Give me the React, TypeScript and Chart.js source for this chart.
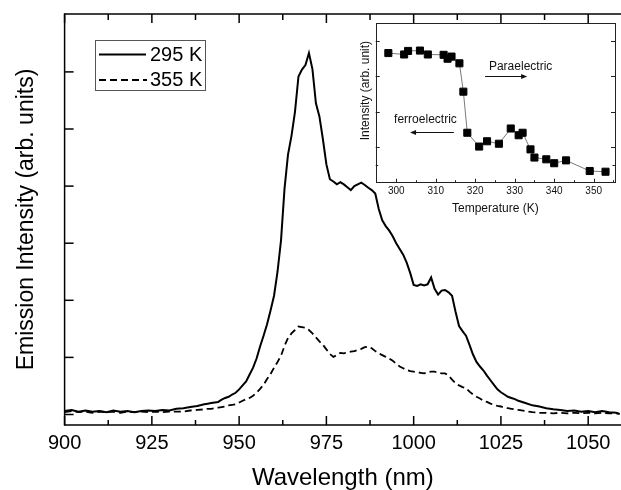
import React, { useEffect, useRef } from "react";
import { Chart, registerables } from "chart.js";

Chart.register(...registerables);

const FONT = "'Liberation Sans', Arial, Helvetica, sans-serif";

// ---- main spectrum ----
const wavelengths = [
  900, 902, 904, 906, 908, 910, 912, 914, 916, 918, 920, 922, 924, 926, 928, 930, 932, 934, 936, 938, 940,
  941, 942, 943, 944, 945, 946, 947, 948, 949, 950,
  951, 952, 953, 954, 955, 956, 957, 958, 959, 960,
  961, 962, 963, 964, 965, 966, 967, 968, 969, 970,
  971, 972, 973, 974, 975, 976, 977, 978, 979, 980,
  981, 982, 983, 984, 985, 986, 987, 988, 989, 990,
  991, 992, 993, 994, 995, 996, 997, 998, 999, 1000,
  1001, 1002, 1003, 1004, 1005, 1006, 1007, 1008, 1009, 1010,
  1011, 1012, 1013, 1014, 1015, 1016, 1017, 1018, 1019, 1020,
  1021, 1022, 1023, 1024, 1025, 1026, 1027, 1028, 1029, 1030,
  1032, 1034, 1036, 1038, 1040, 1042, 1044, 1046, 1048, 1050, 1052, 1054, 1056, 1058, 1059,
];

const intensity295K = [
  0.06, 0.08, 0.05, 0.07, 0.05, 0.06, 0.04, 0.07, 0.05, 0.06, 0.04, 0.06, 0.07, 0.06, 0.08, 0.07, 0.10, 0.11, 0.13, 0.15, 0.18,
  0.19, 0.20, 0.21, 0.22, 0.26, 0.29, 0.31, 0.35, 0.38, 0.44,
  0.51, 0.58, 0.70, 0.82, 0.98, 1.19, 1.38, 1.58, 1.82, 2.08,
  2.50, 3.05, 3.95, 4.55, 4.88, 5.30, 5.92, 6.04, 6.12, 6.33,
  6.05, 5.45, 5.22, 4.82, 4.38, 4.12, 4.08, 4.03, 4.07, 4.03,
  3.98, 3.93, 4.00, 4.03, 4.06, 4.02, 3.97, 3.93, 3.87, 3.60,
  3.40, 3.30, 3.22, 3.12, 3.00, 2.90, 2.80, 2.66, 2.48, 2.27,
  2.25, 2.28, 2.26, 2.28, 2.40, 2.20, 2.10, 2.17, 2.18, 2.14,
  2.08, 1.80, 1.55, 1.46, 1.38, 1.22, 1.05, 0.92, 0.84, 0.77,
  0.68, 0.60, 0.52, 0.44, 0.39, 0.35, 0.31, 0.29, 0.27, 0.24,
  0.20, 0.16, 0.14, 0.11, 0.09, 0.08, 0.06, 0.07, 0.05, 0.06, 0.04, 0.06, 0.04, 0.03, 0.01,
];

const intensity355K = [
  0.04, 0.06, 0.04, 0.05, 0.03, 0.05, 0.04, 0.05, 0.03, 0.05, 0.04, 0.05, 0.04, 0.05, 0.04, 0.05, 0.05, 0.05, 0.07, 0.08, 0.09,
  0.10, 0.10, 0.11, 0.12, 0.13, 0.14, 0.16, 0.17, 0.18, 0.21,
  0.24, 0.27, 0.29, 0.33, 0.38, 0.45, 0.52, 0.62, 0.71, 0.82,
  0.92, 1.03, 1.20, 1.34, 1.42, 1.48, 1.54, 1.53, 1.52, 1.48,
  1.42, 1.35, 1.28, 1.22, 1.14, 1.06, 1.01, 1.04, 1.08, 1.07,
  1.09, 1.10, 1.11, 1.13, 1.15, 1.18, 1.19, 1.16, 1.11, 1.07,
  1.04, 1.01, 0.98, 0.94, 0.89, 0.84, 0.81, 0.78, 0.76, 0.75,
  0.74, 0.73, 0.72, 0.74, 0.75, 0.75, 0.73, 0.72, 0.72, 0.68,
  0.61, 0.55, 0.51, 0.48, 0.46, 0.40, 0.35, 0.31, 0.28, 0.24,
  0.22, 0.19, 0.17, 0.15, 0.14, 0.12, 0.11, 0.10, 0.09, 0.08,
  0.06, 0.04, 0.03, 0.03, 0.02, 0.03, 0.02, 0.03, 0.02, 0.03, 0.02, 0.03, 0.02, 0.02, 0.01,
];

const seriesLabels = ["295 K", "355 K"];
const wavelengthTicks = [900, 925, 950, 975, 1000, 1025, 1050];
const intensityTicks = [0, 1, 2, 3, 4, 5, 6];

// ---- inset ----
const insetTemperature = [298, 302, 303, 306, 308, 312, 313, 314, 316, 317, 318, 321, 323, 326, 329, 331, 332, 334, 335, 338, 340, 343, 349, 353];
const insetIntensity = [3.66, 3.62, 3.72, 3.73, 3.62, 3.61, 3.50, 3.56, 3.37, 2.57, 1.41, 1.02, 1.17, 1.10, 1.53, 1.34, 1.41, 0.94, 0.71, 0.66, 0.55, 0.63, 0.33, 0.31];
const temperatureTicks = [300, 310, 320, 330, 340, 350];
const temperatureMinorTicks = [295, 305, 315, 325, 335, 345, 355];
const insetIntensityTicks = [1, 2, 3, 4];
const insetIntensityMinorTicks = [0.5];

function seg(ctx: CanvasRenderingContext2D, x1: number, y1: number, x2: number, y2: number) {
  ctx.beginPath();
  ctx.moveTo(x1, y1);
  ctx.lineTo(x2, y2);
  ctx.stroke();
}

function arrow(ctx: CanvasRenderingContext2D, x1: number, y: number, x2: number) {
  seg(ctx, x1, y, x2, y);
  const dir = x2 > x1 ? 1 : -1;
  ctx.beginPath();
  ctx.moveTo(x2 + dir * 1, y);
  ctx.lineTo(x2 - dir * 5, y - 2.5);
  ctx.lineTo(x2 - dir * 5, y + 2.5);
  ctx.closePath();
  ctx.fill();
}

export default function App() {
  const mainRef = useRef<HTMLCanvasElement>(null);
  const insetRef = useRef<HTMLCanvasElement>(null);

  useEffect(() => {
    const mainFrame = {
      id: "mainFrame",
      afterDraw(chart: any) {
        const { ctx, chartArea } = chart;
        const { left, right, top, bottom } = chartArea;
        const xs = chart.scales.x;
        const ys = chart.scales.y;
        ctx.save();
        ctx.strokeStyle = "#000";
        ctx.lineWidth = 1.5;
        seg(ctx, left, top, right + 2, top);
        seg(ctx, left, top - 0.75, left, bottom + 0.75);
        seg(ctx, left, bottom, right + 2, bottom);
        // major x ticks
        wavelengthTicks.forEach((v) => {
          const px = xs.getPixelForValue(v);
          seg(ctx, px, bottom, px, bottom - 9);
          seg(ctx, px, top, px, top + 9);
        });
        // minor x ticks (midpoints)
        for (let i = 0; i < wavelengthTicks.length; i++) {
          const a = wavelengthTicks[i];
          const b = i + 1 < wavelengthTicks.length ? wavelengthTicks[i + 1] : a + (a - wavelengthTicks[i - 1]);
          const m = (a + b) / 2;
          if (m > xs.max) continue;
          const px = xs.getPixelForValue(m);
          seg(ctx, px, bottom, px, bottom - 5);
          seg(ctx, px, top, px, top + 6);
        }
        intensityTicks.forEach((v) => {
          const py = ys.getPixelForValue(v);
          seg(ctx, left, py, left + 9, py);
        });
        // legend
        ctx.strokeStyle = "#555";
        ctx.lineWidth = 1;
        ctx.strokeRect(95.5, 40.5, 110, 50);
        ctx.strokeStyle = "#000";
        ctx.lineWidth = 2;
        seg(ctx, 99, 54.5, 146, 54.5);
        ctx.setLineDash([7, 4]);
        seg(ctx, 99, 80, 147, 80);
        ctx.setLineDash([]);
        ctx.fillStyle = "#000";
        ctx.font = `20px ${FONT}`;
        ctx.textAlign = "left";
        ctx.textBaseline = "middle";
        ctx.fillText(seriesLabels[0], 150, 55);
        ctx.fillText(seriesLabels[1], 150, 80);
        ctx.restore();
      },
    };

    const main = new Chart(mainRef.current as HTMLCanvasElement, {
      type: "line",
      data: {
        datasets: [
          {
            label: seriesLabels[0],
            data: wavelengths.map((w, i) => ({ x: w, y: intensity295K[i] })),
            borderColor: "#000",
            borderWidth: 2,
            pointRadius: 0,
            fill: false,
            tension: 0,
          },
          {
            label: seriesLabels[1],
            data: wavelengths.map((w, i) => ({ x: w, y: intensity355K[i] })),
            borderColor: "#000",
            borderWidth: 1.8,
            borderDash: [7, 4],
            pointRadius: 0,
            fill: false,
            tension: 0,
          },
        ],
      },
      options: {
        animation: false,
        responsive: false,
        events: [],
        layout: { padding: { top: 14, left: 0, right: 0, bottom: 0 } },
        plugins: { legend: { display: false }, tooltip: { enabled: false } },
        scales: {
          x: {
            type: "linear",
            min: 900,
            max: 1059.4,
            grid: { display: false, drawTicks: false },
            border: { display: false },
            afterBuildTicks: (s: any) => {
              s.ticks = wavelengthTicks.map((v) => ({ value: v }));
            },
            ticks: {
              font: { family: FONT, size: 20 },
              color: "#000",
              padding: 6,
              maxRotation: 0,
              autoSkip: false,
              callback: (v: any) => String(v),
            },
            title: {
              display: true,
              text: "Wavelength (nm)",
              font: { family: FONT, size: 24, lineHeight: 1 },
              color: "#000",
              padding: { top: 5, bottom: 0 },
            },
          },
          y: {
            type: "linear",
            min: -0.184,
            max: 7.014,
            grid: { display: false, drawTicks: false },
            border: { display: false },
            afterBuildTicks: (s: any) => {
              s.ticks = intensityTicks.map((v) => ({ value: v }));
            },
            ticks: { display: false },
            title: {
              display: true,
              text: "Emission Intensity (arb. units)",
              font: { family: FONT, size: 23 },
              color: "#000",
              padding: { top: 13, bottom: 24 },
            },
          },
        },
      },
      plugins: [mainFrame],
    } as any);

    const insetFrame = {
      id: "insetFrame",
      afterDraw(chart: any) {
        const { ctx, chartArea } = chart;
        const { left, right, top, bottom } = chartArea;
        const xs = chart.scales.x;
        const ys = chart.scales.y;
        ctx.save();
        ctx.strokeStyle = "#222";
        ctx.lineWidth = 1;
        ctx.strokeRect(Math.round(left) + 0.5, Math.round(top) + 0.5, Math.round(right - left), Math.round(bottom - top));
        temperatureTicks.forEach((v) => {
          const px = Math.round(xs.getPixelForValue(v)) + 0.5;
          seg(ctx, px, bottom, px, bottom - 4);
        });
        temperatureMinorTicks.forEach((v) => {
          if (v < xs.min || v > xs.max) return;
          const px = Math.round(xs.getPixelForValue(v)) + 0.5;
          seg(ctx, px, bottom, px, bottom - 2.5);
        });
        insetIntensityTicks.forEach((v) => {
          const py = Math.round(ys.getPixelForValue(v)) + 0.5;
          seg(ctx, left, py, left + 4, py);
          seg(ctx, right, py, right - 4, py);
        });
        insetIntensityMinorTicks.forEach((v) => {
          const py = Math.round(ys.getPixelForValue(v)) + 0.5;
          seg(ctx, left, py, left + 2.5, py);
          seg(ctx, right, py, right - 2.5, py);
        });
        // y title
        ctx.fillStyle = "#111";
        ctx.font = `12px ${FONT}`;
        ctx.textAlign = "center";
        ctx.textBaseline = "middle";
        ctx.save();
        ctx.translate(left - 10.5, ys.getPixelForValue(2.6));
        ctx.rotate(-Math.PI / 2);
        ctx.fillText("Intensity (arb. unit)", 0, 0);
        ctx.restore();
        // annotations
        ctx.fillText("Paraelectric", xs.getPixelForValue(331.5), ys.getPixelForValue(3.28));
        ctx.fillText("ferroelectric", xs.getPixelForValue(307.4), ys.getPixelForValue(1.77));
        ctx.strokeStyle = "#111";
        ctx.lineWidth = 1;
        arrow(ctx, xs.getPixelForValue(322.5), Math.round(ys.getPixelForValue(3.0)) + 0.5, xs.getPixelForValue(332.9));
        arrow(ctx, xs.getPixelForValue(314.6), Math.round(ys.getPixelForValue(1.44)) + 0.5, xs.getPixelForValue(303.75));
        ctx.restore();
      },
    };

    const inset = new Chart(insetRef.current as HTMLCanvasElement, {
      type: "line",
      data: {
        datasets: [
          {
            data: insetTemperature.map((t, i) => ({ x: t, y: insetIntensity[i] })),
            borderColor: "#7a7a7a",
            borderWidth: 1,
            pointStyle: "rect",
            pointRadius: 5,
            pointBackgroundColor: "#000",
            pointBorderColor: "#000",
            pointBorderWidth: 1,
            tension: 0,
            fill: false,
          },
        ],
      },
      options: {
        animation: false,
        responsive: false,
        events: [],
        layout: { padding: { left: 35.7, right: 2.7, top: 9.3, bottom: 0 } },
        plugins: { legend: { display: false }, tooltip: { enabled: false } },
        scales: {
          x: {
            type: "linear",
            min: 294.8,
            max: 355.4,
            grid: { display: false, drawTicks: false },
            border: { display: false },
            afterBuildTicks: (s: any) => {
              s.ticks = temperatureTicks.map((v) => ({ value: v }));
            },
            ticks: {
              font: { family: FONT, size: 10 },
              color: "#111",
              padding: 3,
              maxRotation: 0,
              autoSkip: false,
              callback: (v: any) => String(v),
            },
            title: {
              display: true,
              text: "Temperature (K)",
              font: { family: FONT, size: 12 },
              color: "#111",
              padding: { top: 0.4, bottom: 4.5 },
            },
          },
          y: { type: "linear", display: false, min: 0, max: 4.5 },
        },
      },
      plugins: [insetFrame],
    } as any);

    return () => {
      main.destroy();
      inset.destroy();
    };
  }, []);

  return (
    <div style={{ position: "absolute", left: 0, top: 0, width: 621, height: 490, background: "#fff", overflow: "hidden" }}>
      <canvas ref={mainRef} width={621} height={490} style={{ position: "absolute", left: 0, top: 0 }} />
      <canvas ref={insetRef} width={281} height={206} style={{ position: "absolute", left: 340, top: 14 }} />
    </div>
  );
}
